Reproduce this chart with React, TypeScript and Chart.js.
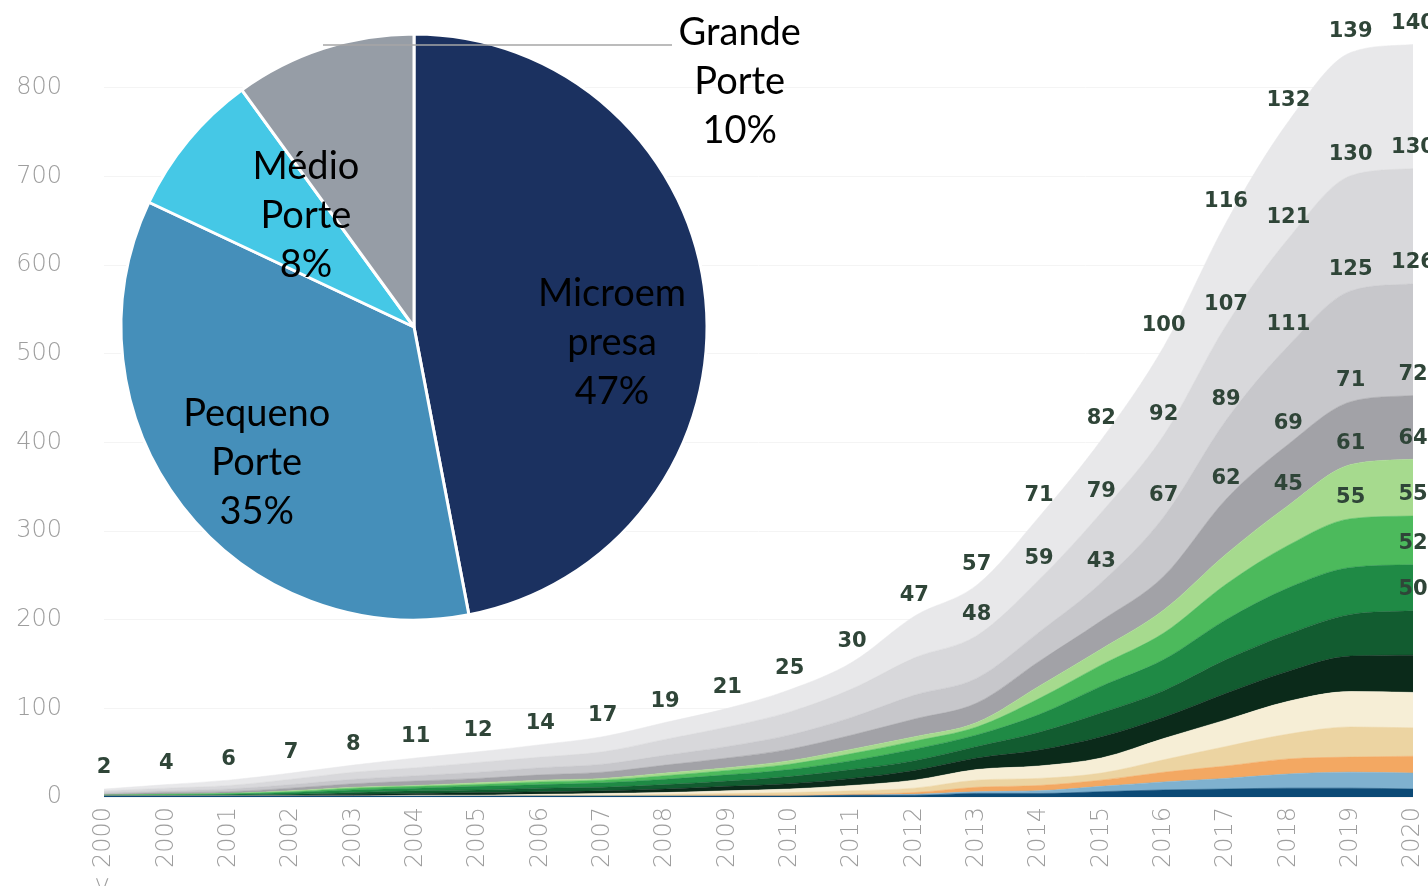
import React, { useEffect, useRef } from 'react';
import { Chart, registerables } from 'chart.js';

Chart.register(...registerables);

// ---------- Area chart data ----------
const categories = ['< 2000', '2000', '2001', '2002', '2003', '2004', '2005', '2006', '2007', '2008', '2009', '2010', '2011', '2012', '2013', '2014', '2015', '2016', '2017', '2018', '2019', '2020'];
const yTickValues = [0, 100, 200, 300, 400, 500, 600, 700, 800];

const seriesNavy = [1, 1, 1, 1, 1, 1, 1, 1, 1, 1, 1, 1, 2, 2, 4, 4, 6, 8, 9, 10, 10, 9];
const seriesLightBlue = [0, 0, 0, 0, 0, 0, 0, 0, 0, 0, 0, 0, 0, 1, 2, 3, 6, 9, 12, 16, 18, 18];
const seriesOrange = [0, 0, 0, 0, 0, 0, 0, 0, 0, 0, 1, 1, 1, 2, 5, 6, 7, 11, 14, 17, 17, 19];
const seriesTan = [0, 0, 0, 0, 0, 0, 0, 1, 1, 2, 2, 3, 4, 5, 8, 8, 8, 14, 22, 28, 34, 32];
const seriesCream = [0, 0, 0, 0, 0, 1, 1, 1, 2, 2, 3, 4, 6, 9, 12, 14, 17, 24, 30, 37, 40, 40];
const seriesBlackGreen = [0, 0, 0, 1, 2, 2, 3, 3, 3, 4, 5, 6, 8, 11, 13, 18, 24, 24, 30, 34, 40, 42];
const seriesDarkGreen = [0, 0, 1, 1, 2, 3, 3, 4, 4, 5, 6, 8, 10, 11, 13, 20, 27, 30, 38, 42, 47, 50];
const seriesMediumGreen = [1, 1, 1, 2, 3, 3, 4, 4, 5, 6, 7, 8, 10, 13, 13, 20, 30, 35, 45, 52, 53, 52];
const seriesBrightGreen = [0, 1, 1, 1, 2, 2, 2, 3, 3, 4, 5, 6, 8, 9, 9, 18, 24, 30, 40, 48, 55, 55];
const seriesLightGreen = [0, 0, 0, 1, 1, 1, 2, 2, 2, 3, 3, 4, 5, 5, 5, 14, 18, 26, 34, 45, 61, 64];
const seriesDarkGray = [1, 2, 2, 3, 4, 5, 5, 6, 7, 9, 11, 13, 16, 20, 22, 28, 32, 38, 62, 69, 71, 72];
const seriesMidGray = [2, 2, 3, 4, 5, 6, 7, 8, 9, 11, 13, 16, 20, 27, 28, 33, 43, 67, 89, 111, 125, 126];
const seriesLightGray = [2, 3, 4, 6, 8, 9, 11, 12, 14, 18, 22, 26, 32, 42, 48, 59, 79, 92, 107, 121, 130, 130];
const seriesPaleGray = [2, 4, 6, 7, 8, 11, 12, 14, 17, 19, 21, 25, 30, 47, 57, 71, 82, 100, 116, 132, 139, 140];

// ---------- Pie data ----------
const pieLabels = ['Microempresa', 'Pequeno Porte', 'Médio Porte', 'Grande Porte'];
const pieLabelLines = [['Microem', 'presa'], ['Pequeno', 'Porte'], ['Médio', 'Porte'], ['Grande', 'Porte']];
const pieValues = [47, 35, 8, 10];

export default function App() {
  const areaRef = useRef<HTMLCanvasElement>(null);
  const pieRef = useRef<HTMLCanvasElement>(null);

  useEffect(() => {
    const layers = [
      { data: seriesNavy, color: '#0c4a76', labelFrom: -1 },
      { data: seriesLightBlue, color: '#7fb1cf', labelFrom: -1 },
      { data: seriesOrange, color: '#f3a862', labelFrom: -1 },
      { data: seriesTan, color: '#ecd4a2', labelFrom: -1 },
      { data: seriesCream, color: '#f6eed6', labelFrom: -1 },
      { data: seriesBlackGreen, color: '#0b2a1a', labelFrom: -1 },
      { data: seriesDarkGreen, color: '#125c30', labelFrom: 21 },
      { data: seriesMediumGreen, color: '#1f8a45', labelFrom: 21 },
      { data: seriesBrightGreen, color: '#4cba5c', labelFrom: 20 },
      { data: seriesLightGreen, color: '#a6da8e', labelFrom: 19 },
      { data: seriesDarkGray, color: '#a2a2a7', labelFrom: 18 },
      { data: seriesMidGray, color: '#c7c7cb', labelFrom: 16 },
      { data: seriesLightGray, color: '#d8d8db', labelFrom: 14 },
      { data: seriesPaleGray, color: '#e8e8ea', labelFrom: 0 },
    ];

    const areaLabelPlugin = {
      id: 'areaLabels',
      afterDatasetsDraw(chart: any) {
        const ctx = chart.ctx;
        ctx.save();
        ctx.font = 'bold 21px "DejaVu Sans"';
        ctx.fillStyle = '#2f4538';
        ctx.textAlign = 'center';
        ctx.textBaseline = 'middle';
        chart.data.datasets.forEach((ds: any, i: number) => {
          if (ds.labelFrom < 0) return;
          const meta = chart.getDatasetMeta(i);
          meta.data.forEach((pt: any, j: number) => {
            if (j < ds.labelFrom) return;
            ctx.fillText(String(ds.data[j]), pt.x, pt.y - 21);
          });
        });
        ctx.restore();
      },
    };

    const tickFont = { family: '"DejaVu Sans"', size: 24, weight: 300 as any };

    const area = new Chart(areaRef.current!, {
      type: 'line',
      data: {
        labels: categories,
        datasets: layers.map((l, i) => ({
          data: l.data,
          backgroundColor: l.color,
          borderColor: l.color,
          borderWidth: 0.5,
          fill: i === 0 ? 'origin' : '-1',
          pointRadius: 0,
          tension: 0.3,
          cubicInterpolationMode: 'monotone',
          labelFrom: l.labelFrom,
        })) as any,
      },
      options: {
        responsive: false,
        animation: false,
        devicePixelRatio: 1,
        layout: { padding: { top: 17, right: 15, left: 0, bottom: 0 } },
        plugins: { legend: { display: false }, tooltip: { enabled: false } },
        scales: {
          x: {
            offset: false,
            grid: { display: false, drawTicks: false },
            border: { display: false },
            ticks: { minRotation: 90, maxRotation: 90, autoSkip: false, padding: 10, color: '#9e9e9e', font: tickFont },
            afterFit: (s: any) => {
              s.height = 89;
              s.paddingLeft = 0;
              s.paddingRight = 0;
              s.paddingTop = 0;
              s.paddingBottom = 0;
            },
          },
          y: {
            stacked: true,
            min: 0,
            max: 880,
            grid: { color: '#f4f4f4', drawTicks: false },
            border: { display: false },
            ticks: { padding: 42, color: '#9e9e9e', font: tickFont },
            afterBuildTicks: (s: any) => { s.ticks = yTickValues.map((v) => ({ value: v })); },
            afterFit: (s: any) => {
              s.width = 104;
              s.paddingLeft = 0;
              s.paddingRight = 0;
              s.paddingTop = 0;
              s.paddingBottom = 0;
            },
          },
        },
      } as any,
      plugins: [areaLabelPlugin],
    });

    // Pie label placement: [fraction of radius, angle shift from slice middle in degrees]
    const piePlacement = [
      { f: 0.678, d: 10 },
      { f: 0.709, d: -3 },
      { f: 0.529, d: 6.2 },
      { f: 1.392, d: 71 },
    ];

    const pieLabelPlugin = {
      id: 'pieLabels',
      afterDatasetsDraw(chart: any) {
        const ctx = chart.ctx;
        const meta = chart.getDatasetMeta(0);
        ctx.save();
        const first = meta.data[0];
        const cx0 = first.x;
        const cy0 = first.y;
        ctx.strokeStyle = '#a6a6a6';
        ctx.lineWidth = 1.5;
        ctx.beginPath();
        ctx.moveTo(cx0 - 91, cy0 - 282);
        ctx.lineTo(cx0 + 258, cy0 - 282);
        ctx.stroke();

        ctx.font = '38px Lato';
        ctx.fillStyle = '#000000';
        ctx.textAlign = 'center';
        ctx.textBaseline = 'middle';
        meta.data.forEach((arc: any, i: number) => {
          const p = arc.getProps(['x', 'y', 'startAngle', 'endAngle', 'outerRadius'], true);
          const a = (p.startAngle + p.endAngle) / 2 + (piePlacement[i].d * Math.PI) / 180;
          const r = p.outerRadius * piePlacement[i].f;
          const cx = p.x + Math.cos(a) * r;
          const cy = p.y + Math.sin(a) * r;
          const lines = [...pieLabelLines[i], pieValues[i] + '%'];
          const lh = 49;
          lines.forEach((t, k) => {
            ctx.fillText(t, cx, cy + (k - (lines.length - 1) / 2) * lh);
          });
        });
        ctx.restore();
      },
    };

    const pie = new Chart(pieRef.current!, {
      type: 'pie',
      data: {
        labels: pieLabels,
        datasets: [{
          data: pieValues,
          backgroundColor: ['#1b3160', '#458fba', '#45c8e6', '#969da6'],
          borderColor: '#ffffff',
          borderWidth: 3,
        }],
      },
      options: {
        responsive: false,
        animation: false,
        devicePixelRatio: 1,
        radius: 293,
        layout: { padding: 0 },
        plugins: { legend: { display: false }, tooltip: { enabled: false } },
      } as any,
      plugins: [pieLabelPlugin],
    });

    return () => {
      area.destroy();
      pie.destroy();
    };
  }, []);

  return (
    <div style={{ position: 'absolute', left: 0, top: 0, width: 1428, height: 886, background: '#ffffff', overflow: 'hidden' }}>
      <canvas ref={areaRef} width={1428} height={886} style={{ position: 'absolute', left: 0, top: 0 }} />
      <canvas ref={pieRef} width={828} height={654} style={{ position: 'absolute', left: 0, top: 0 }} />
    </div>
  );
}
